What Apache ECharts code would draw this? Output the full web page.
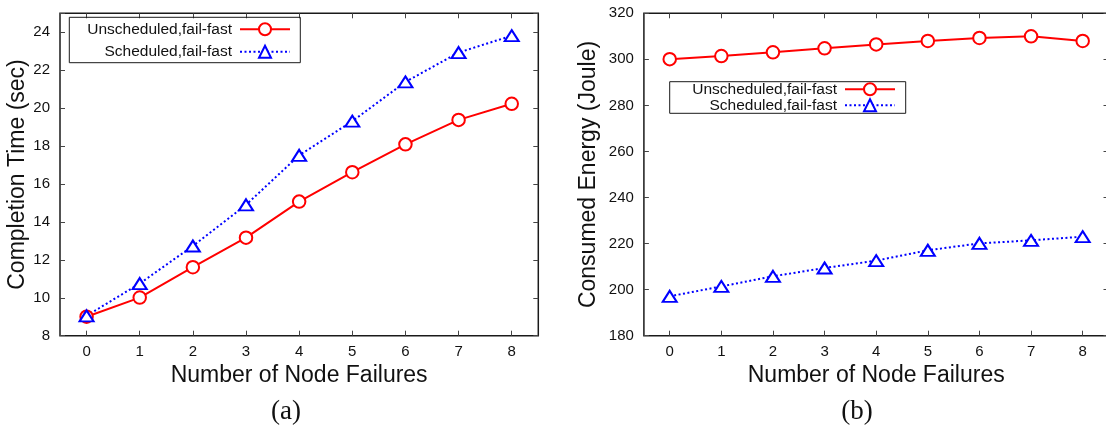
<!DOCTYPE html>
<html>
<head>
<meta charset="utf-8">
<script src="https://cdn.jsdelivr.net/npm/echarts@6/dist/echarts.min.js"></script>
<style>
html,body{margin:0;padding:0;background:#fff;}
#chart{width:1106px;height:434px;}
</style>
</head>
<body>
<div id="chart"></div>
<script>
// ---- data ----
const categories = ['0', '1', '2', '3', '4', '5', '6', '7', '8'];
const seriesNames = ['Unscheduled,fail-fast', 'Scheduled,fail-fast'];
const timeUnscheduled = [9.0, 10.01, 11.61, 13.17, 15.07, 16.62, 18.09, 19.38, 20.23];
const timeScheduled = [9.05, 10.75, 12.73, 14.9, 17.51, 19.31, 21.38, 22.93, 23.82];
const energyUnscheduled = [300.1, 301.45, 303.05, 304.8, 306.5, 308.0, 309.3, 310.0, 308.0];
const energyScheduled = [197.1, 201.4, 205.8, 209.4, 212.6, 217.1, 220.1, 221.4, 223.0];
const timeAxis = { min: 8, max: 25, interval: 2 };
const energyAxis = { min: 180, max: 320, interval: 20 };
const xTitle = 'Number of Node Failures';
const yTitles = ['Completion Time (sec)', 'Consumed Energy (Joule)'];
const captions = ['(a)', '(b)'];

// ---- chart ----
const FONT = 'Liberation Sans, Arial, Helvetica, sans-serif';
const RED = '#ff0000', BLUE = '#0000ff';
const chart = echarts.init(document.getElementById('chart'), null, { renderer: 'canvas' });

function xAxes(gridIndex) {
  const base = {
    type: 'category', data: categories, gridIndex: gridIndex, boundaryGap: true,
    axisLine: { show: false }, splitLine: { show: false },
    axisTick: { show: true, inside: true, length: 5, alignWithLabel: true, interval: 0, lineStyle: { color: '#444', width: 1 } }
  };
  return [
    Object.assign({}, base, {
      position: 'bottom',
      axisLabel: { show: true, interval: 0, margin: 9, fontSize: 15, color: '#111', fontFamily: FONT },
      name: xTitle, nameLocation: 'middle', nameGap: 28,
      nameTextStyle: { fontSize: 23, color: '#111', fontFamily: FONT }
    }),
    Object.assign({}, base, { position: 'top', axisLabel: { show: false } })
  ];
}
function yAxes(gridIndex, rng, title, gap) {
  const base = {
    type: 'value', gridIndex: gridIndex, min: rng.min, max: rng.max, interval: rng.interval,
    axisLine: { show: false }, splitLine: { show: false },
    axisTick: { show: true, inside: true, length: 5, lineStyle: { color: '#444', width: 1 } }
  };
  return [
    Object.assign({}, base, {
      position: 'left',
      axisLabel: {
        show: true, margin: 10, fontSize: 15, color: '#111', fontFamily: FONT,
        formatter: v => ((v - rng.min) % rng.interval === 0 ? String(v) : '')
      },
      name: title, nameLocation: 'middle', nameRotate: 90, nameGap: gap,
      nameTextStyle: { fontSize: 23, color: '#111', fontFamily: FONT }
    }),
    Object.assign({}, base, { position: 'right', axisLabel: { show: false } })
  ];
}

const x0 = xAxes(0), x1 = xAxes(1);
const y0 = yAxes(0, timeAxis, yTitles[0], 27), y1 = yAxes(1, energyAxis, yTitles[1], 44);

function lineSeries(name, data, xi, yi, solid) {
  return {
    type: 'line', name: name, data: data, xAxisIndex: xi, yAxisIndex: yi,
    symbol: solid ? 'emptyCircle' : 'emptyTriangle',
    symbolSize: solid ? 12.5 : [14, 11],
    showAllSymbol: true,
    lineStyle: { color: solid ? RED : BLUE, width: 2, type: solid ? 'solid' : [2, 2.5] },
    itemStyle: { color: solid ? RED : BLUE, borderWidth: 2 },
    emphasis: { disabled: true },
    animation: false
  };
}

function legend(name, right, top) {
  return {
    data: [name], orient: 'vertical', align: 'right', right: right, top: top,
    padding: 0, itemWidth: 50, itemHeight: 15, itemGap: 0,
    textStyle: { fontSize: 15.5, lineHeight: 16, color: '#111', fontFamily: FONT, padding: [0, 3, 0, 0] },
    selectedMode: false
  };
}

const gridBase = { show: true, borderColor: '#1a1a1a', borderWidth: 1.5, backgroundColor: 'transparent', containLabel: false, outerBoundsMode: 'none' };

chart.setOption({
  backgroundColor: '#fff',
  animation: false,
  grid: [
    Object.assign({ left: 60, top: 13.3, width: 478.3, height: 322.4 }, gridBase),
    Object.assign({ left: 643.9, top: 13.3, width: 464.6, height: 322.4 }, gridBase)
  ],
  xAxis: [x0[0], x0[1], x1[0], x1[1]],
  yAxis: [y0[0], y0[1], y1[0], y1[1]],
  legend: [
    legend(seriesNames[0], 815, 21.3),
    legend(seriesNames[1], 815, 43.7),
    legend(seriesNames[0], 210, 81.3),
    legend(seriesNames[1], 210, 97.3)
  ],
  series: [
    lineSeries(seriesNames[0], timeUnscheduled, 0, 0, true),
    lineSeries(seriesNames[1], timeScheduled, 0, 0, false),
    lineSeries(seriesNames[0], energyUnscheduled, 2, 2, true),
    lineSeries(seriesNames[1], energyScheduled, 2, 2, false)
  ],
  graphic: [
    { type: 'rect', shape: { x: 69.3, y: 17.3, width: 231, height: 45.4 }, style: { fill: 'none', stroke: '#1a1a1a', lineWidth: 1 }, z: 1 },
    { type: 'rect', shape: { x: 669.7, y: 81.7, width: 236, height: 31.6 }, style: { fill: 'none', stroke: '#1a1a1a', lineWidth: 1 }, z: 1 },
    { type: 'text', x: 286, y: 412, style: { text: captions[0], textAlign: 'center', textVerticalAlign: 'middle', fontSize: 27, fontFamily: 'Liberation Serif, DejaVu Serif, serif', fill: '#111' } },
    { type: 'text', x: 857, y: 412, style: { text: captions[1], textAlign: 'center', textVerticalAlign: 'middle', fontSize: 27, fontFamily: 'Liberation Serif, DejaVu Serif, serif', fill: '#111' } }
  ]
});
</script>
</body>
</html>
